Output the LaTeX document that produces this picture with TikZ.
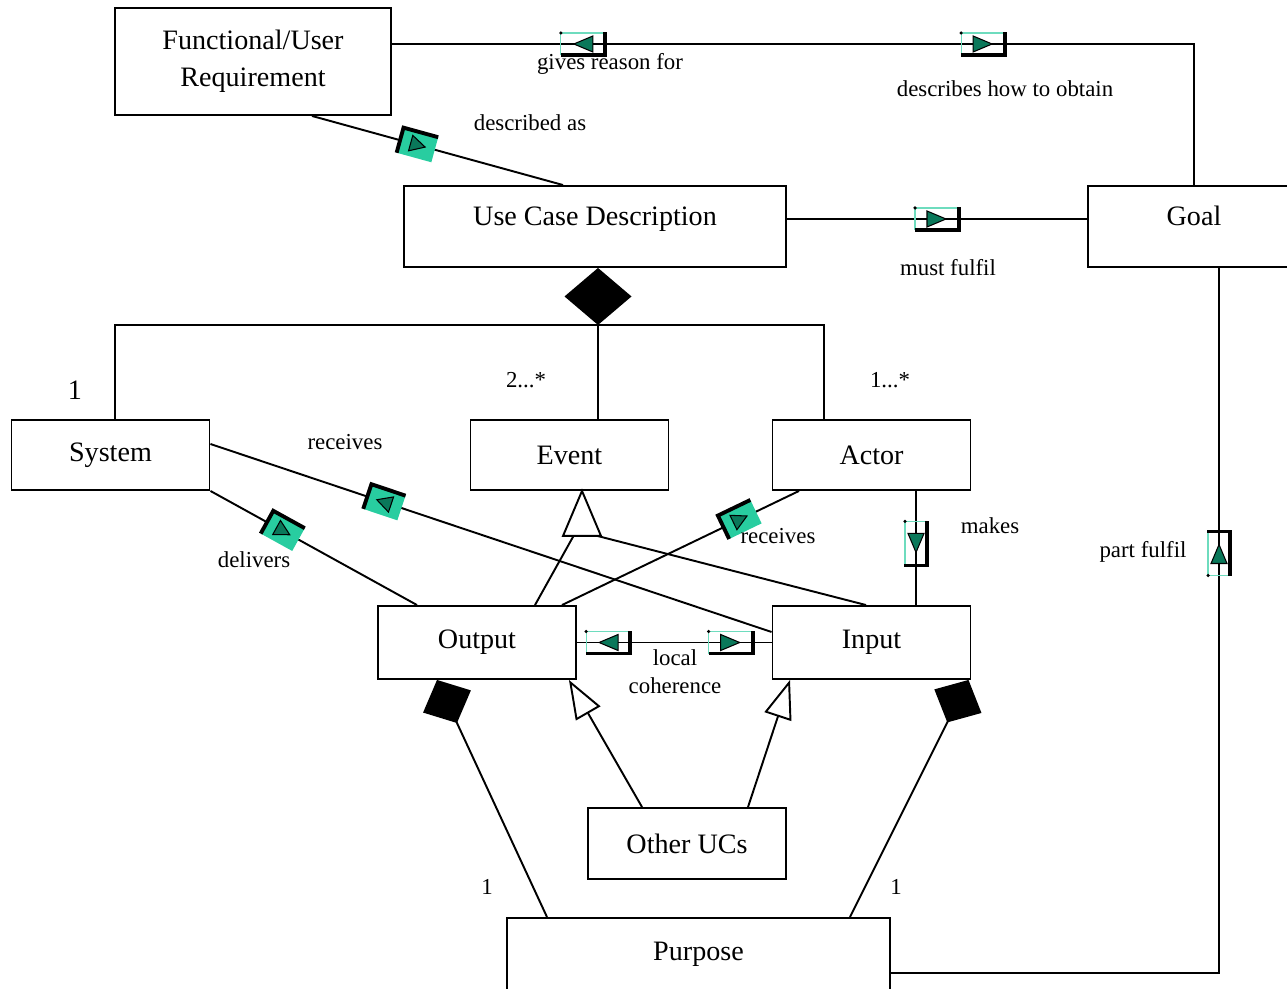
\documentclass[tikz,border=0pt]{standalone}
\usepackage{fontspec}
\setmainfont{Liberation Serif}
\usetikzlibrary{calc,arrows.meta}
\definecolor{tagfill}{RGB}{40,205,160}
\definecolor{flagfill}{RGB}{10,120,90}
\definecolor{flagline}{RGB}{110,220,190}
\tikzset{
  box/.style={draw, minimum width=3.96cm, minimum height=1.4cm, inner sep=0pt, align=center, font=\fontsize{16}{21}\selectfont},
  raised/.style={text height=11pt, text depth=12pt},
  lbl/.style={inner sep=0pt, align=center, font=\fontsize{13}{16}\selectfont},
  pics/flag/.style={code={
    \draw[flagline, line width=.6pt] (-22,-11) -- (-22,11) -- (22,11);
    \fill (-22,11) circle (1pt);
    \draw[line width=2.2pt] (-22,-11) -- (22,-11) -- (22,12);
    \filldraw[fill=flagfill, line width=.6pt, xscale=#1] (-10,8) -- (9,0) -- (-10,-8) -- cycle;
  }},
  pics/tag/.style={code={
    \fill[tagfill] (-18,-13) rectangle (18,13);
    \draw[line width=2.2pt] (-18,-13) -- (-18,13) -- (18,13);
    \filldraw[fill=flagfill, line width=.6pt, xscale=#1] (-7,8) -- (8,0) -- (-7,-8) -- cycle;
  }}
}
\begin{document}
\begin{tikzpicture}[x=0.02cm, y=0.02cm, line width=1.1pt]
\useasboundingbox (0,0) rectangle (1287,988);
\node[box, minimum width=5.52cm, minimum height=2.14cm] (req) at (253,926.5) {Functional/User\\Requirement};
\node[box, raised, minimum width=7.64cm, minimum height=1.62cm] (ucd) at (595,761.5) {Use Case Description};
\node[box, raised, minimum width=4.24cm, minimum height=1.62cm] (goal) at (1194,761.5) {Goal};
\node[box] (sys) at (110.5,533) {System};
\node[box] (event) at (569.5,533) {Event};
\node[box] (actor) at (871.5,533) {Actor};
\node[box, minimum height=1.46cm] (out) at (477,345.5) {Output};
\node[box, minimum height=1.46cm] (inp) at (871.5,345.5) {Input};
\node[box, minimum height=1.42cm] (other) at (687,144.5) {Other UCs};
\node[box, minimum width=7.66cm, minimum height=1.44cm] (purp) at (698.5,34) {Purpose};

\draw ($(req.east)+(0,17.5)$) coordinate (r) -- (r -| goal.north) pic[pos=.238]{flag=-1} pic[pos=.737]{flag=1} -- (goal.north);
\draw ($(req.south)+(59,0)$) -- ($(ucd.north)+(-32,0)$) pic[pos=.42, sloped]{tag=1};
\draw ($(ucd.east)+(0,7.5)$) coordinate (u) -- (u -| goal.west) pic[pos=.5]{flag=1};

\fill ($(ucd.south)+(3,0)$) -- ++(33.5,-28.5) -- ++(-33.5,-28.5) coordinate (comp) -- ++(-33.5,28.5) -- cycle;
\draw ($(sys.north)+(4.5,0)$) |- (comp) -| ($(actor.north)+(-47.5,0)$);
\draw (comp) -- (comp |- event.north);

\draw ($(sys.east)+(0,11)$) -- ($(inp.west)+(0,10.5)$) pic[pos=.31, sloped]{tag=-1};
\draw (sys.south east) -- ($(out.north)+(-60,0)$) pic[pos=.35, sloped]{tag=1};
\draw ($(out.north)+(85,0)$) -- ($(actor.south)+(-72.5,0)$) pic[pos=.75, sloped]{tag=1};
\draw ($(actor.south)+(44.5,0)$) -- ($(inp.north)+(44.5,0)$) pic[pos=.46, rotate=-90, yscale=-1]{flag=1};
\draw (out.east) -- (inp.west) pic[pos=.16]{flag=-1} pic[pos=.79]{flag=1};

\draw ($(out.north)+(58,0)$) -- ($(event.south)+(4,-45)$);
\draw ($(inp.north)+(-5.5,0)$) -- ($(event.south)+(28,-45)$);
\filldraw[fill=white] ($(event.south)+(12.5,0)$) -- ++(19,-45) -- ++(-38,0) -- cycle;

\draw[-{Triangle[fill=white, length=22pt, width=16pt]}] ($(other.north)+(-45,0)$) -- ($(out.south east)+(-8,0)$);
\draw[-{Triangle[fill=white, length=22pt, width=16pt]}] ($(other.north)+(61,0)$) -- ($(inp.south)+(-81.5,0)$);
\draw[-{Diamond[length=27pt, width=30pt]}] ($(purp.north)+(-151.5,0)$) -- ($(out.south)+(-40,0)$);
\draw[-{Diamond[length=27pt, width=30pt]}] ($(purp.north)+(151.5,0)$) -- ($(inp.south)+(97,0)$);
\draw ($(goal.south)+(25,0)$) |- ($(purp.east)+(0,-19)$) pic[pos=.2025, rotate=90]{flag=1};

\node[lbl] (gives) at (610,924) {gives reason for};
\node[lbl] (obtain) at (1005,899) {describes how to obtain};
\node[lbl] (descr) at (530,865) {described as};
\node[lbl] (fulfil) at (948,720) {must fulfil};
\node[lbl, font=\fontsize{16}{19}\selectfont] (one) at (75,598) {1};
\node[lbl] (two) at (526,608) {2...*};
\node[lbl] (many) at (890,608) {1...*};
\node[lbl] (recv) at (345,546) {receives};
\node[lbl] (deliv) at (254,428) {delivers};
\node[lbl] (recv2) at (778,452) {receives};
\node[lbl] (makes) at (990,462) {makes};
\node[lbl] (part) at (1143,436) {part fulfil};
\node[lbl] (local) at (675,316) {local\\coherence};
\node[lbl] (oneout) at (487,101) {1};
\node[lbl] (onein) at (896,101) {1};
\end{tikzpicture}
\end{document}
